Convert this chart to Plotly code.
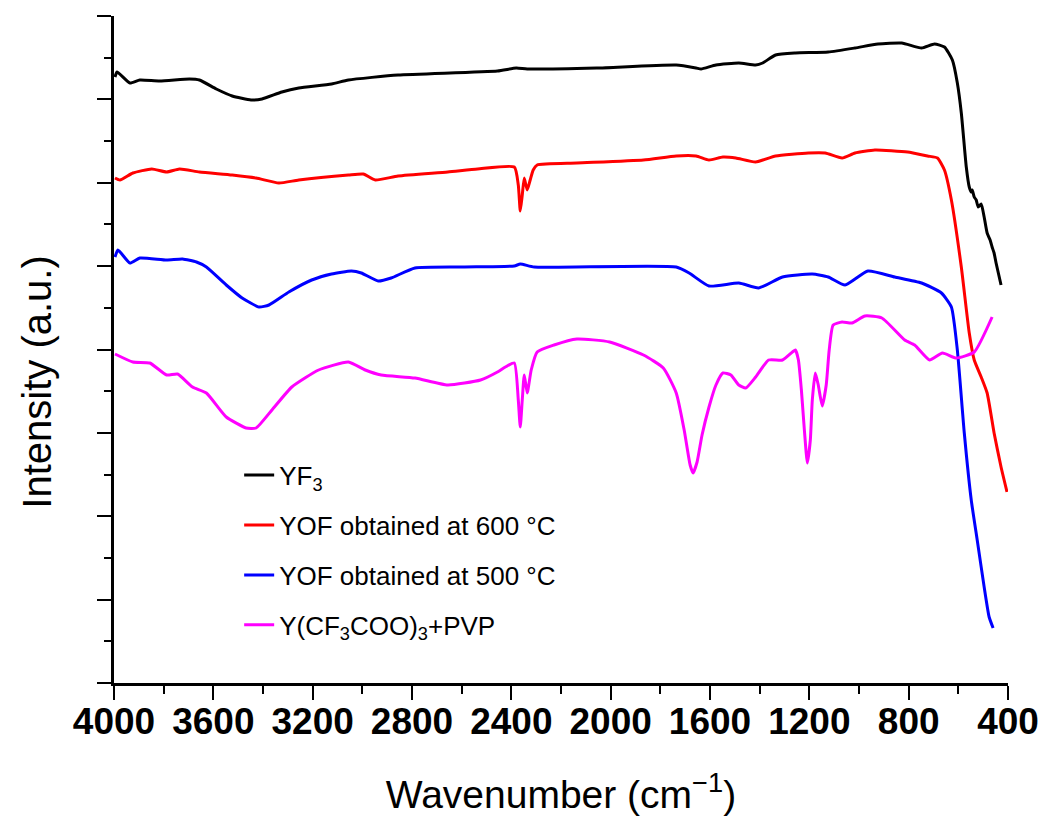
import plotly.graph_objects as go

# Wavenumber (cm^-1) and intensity (a.u.)
yf3_w = [3996, 3988, 3936, 3896, 3816, 3696, 3656, 3588, 3524, 3448, 3404, 3324, 3256, 3124, 3056,
         2856, 2456, 2380, 2336, 2056, 1736, 1656, 1636, 1576, 1484, 1416, 1388, 1336, 1256, 1124,
         1016, 924, 828, 748, 696, 656, 624, 604, 588, 568, 556, 548, 544, 536, 528, 520, 508, 496,
         484, 472, 464, 456, 448, 428]
yf3_v = [606, 611, 600, 603, 602, 604, 603, 594, 587, 583, 584, 591, 595, 599, 603,
         608, 612, 615, 614, 615, 618, 615, 614, 618, 620, 618, 620, 628, 630, 631,
         635, 639, 640, 635, 639, 636, 623, 600, 570, 516, 496, 491, 493, 486, 483, 476, 479, 466,
         450, 443, 436, 430, 420, 398]

yof600_w = [3996, 3976, 3924, 3848, 3788, 3736, 3656, 3524, 3428, 3336, 3256, 3056, 2996, 2948,
            2856, 2656, 2536, 2388, 2372, 2364, 2356, 2348, 2336, 2324, 2312, 2296, 2136, 1868,
            1736, 1656, 1604, 1548, 1496, 1416, 1336, 1204, 1136, 1068, 1016, 936, 804, 724, 684,
            656, 628, 588, 556, 536, 508, 484, 456, 428, 404]
yof600_v = [505, 503, 510, 514, 511, 514, 511, 508, 505, 500, 503, 508, 509, 503,
            507, 511, 514, 516, 498, 472, 488, 505, 493, 503, 513, 518, 520, 523,
            527, 527, 523, 526, 525, 521, 527, 530, 530, 525, 530, 533, 531, 527, 525,
            513, 483, 416, 350, 323, 306, 290, 250, 216, 191]

yof500_w = [3996, 3984, 3936, 3896, 3788, 3724, 3668, 3628, 3548, 3484, 3416, 3376, 3296, 3204,
            3124, 3044, 3004, 2936, 2884, 2788, 2588, 2388, 2364, 2308, 1736, 1684, 1604, 1484,
            1404, 1308, 1188, 1124, 1056, 964, 856, 748, 668, 628, 604, 576, 548, 524, 496, 476, 460]
yof500_v = [426, 433, 420, 425, 423, 424, 421, 416, 398, 385, 376, 378, 391, 403,
            409, 412, 410, 402, 405, 415, 416, 417, 419, 416, 416, 410, 397, 400,
            395, 406, 409, 406, 398, 412, 406, 400, 390, 376, 333, 250, 183, 143, 96, 66, 55]

prec_w = [3996, 3924, 3856, 3788, 3744, 3684, 3628, 3548, 3468, 3428, 3364, 3284, 3176, 3056,
          2988, 2924, 2788, 2656, 2524, 2456, 2424, 2388, 2372, 2364, 2356, 2348, 2336, 2320,
          2296, 2228, 2136, 2004, 1868, 1788, 1736, 1704, 1680, 1668, 1652, 1632, 1604, 1576,
          1548, 1516, 1484, 1456, 1416, 1364, 1308, 1268, 1256, 1244, 1232, 1220, 1208, 1196,
          1188, 1176, 1164, 1148, 1132, 1120, 1104, 1068, 1028, 976, 908, 816, 776, 716, 664,
          608, 536, 464]
prec_v = [329, 321, 320, 308, 309, 296, 290, 266, 255, 255, 273, 296, 313, 321,
          313, 308, 305, 298, 303, 311, 316, 320, 283, 256, 283, 308, 290, 313,
          331, 338, 344, 341, 328, 315, 290, 253, 218, 210, 221, 248, 276, 298,
          310, 308, 298, 295, 306, 323, 323, 331, 333, 323, 293, 253, 220, 243,
          283, 310, 298, 277, 298, 333, 358, 361, 360, 367, 365, 343, 338, 323, 330,
          325, 331, 366]

names = ["YF<sub>3</sub>", "YOF obtained at 600 \u00b0C", "YOF obtained at 500 \u00b0C",
         "Y(CF<sub>3</sub>COO)<sub>3</sub>+PVP"]
colors = ["#000000", "#FF0000", "#0000FF", "#FF00FF"]
series = [(yf3_w, yf3_v), (yof600_w, yof600_v), (yof500_w, yof500_v), (prec_w, prec_v)]

x_ticks = [4000, 3600, 3200, 2800, 2400, 2000, 1600, 1200, 800, 400]

FONT = "Arial, 'Liberation Sans', sans-serif"
fig = go.Figure()
legend_ids = ["legend", "legend2", "legend3", "legend4"]
legend_y = [0.3118, 0.2369, 0.1619, 0.0870]
for i, ((w, v), n, c) in enumerate(zip(series, names, colors)):
    fig.add_trace(go.Scatter(x=w, y=v, mode="lines", name=n,
                             line=dict(color=c, width=3, shape="spline", smoothing=0.5),
                             legend=legend_ids[i], showlegend=True))

layout_legends = {}
for lid, ly in zip(legend_ids, legend_y):
    layout_legends[lid] = dict(x=0.14, y=ly, xanchor="left", yanchor="middle",
                               bgcolor="rgba(0,0,0,0)", borderwidth=0,
                               font=dict(family=FONT, size=26, color="black"))

fig.update_layout(
    width=1051, height=821,
    margin=dict(l=114, r=37, t=16, b=138),
    paper_bgcolor="white", plot_bgcolor="white",
    font=dict(family=FONT, color="black"),
    **layout_legends,
    xaxis=dict(range=[4000, 400], tickmode="array", tickvals=x_ticks,
               ticktext=[f"<b>{t}</b>" for t in x_ticks],
               ticks="outside", ticklen=14, tickwidth=2, tickcolor="black",
               ticklabelstandoff=-10,
               minor=dict(dtick=200, tick0=0, ticks="outside", ticklen=8, tickwidth=2,
                          tickcolor="black", showgrid=False),
               showline=True, linecolor="black", linewidth=2.5,
               showgrid=False, zeroline=False,
               tickfont=dict(family=FONT, size=37, color="black"),
               title=dict(text="Wavenumber (cm<sup>\u22121</sup>)",
                          font=dict(family=FONT, size=39, color="black"), standoff=40)),
    yaxis=dict(range=[0, 667], tick0=0, dtick=83.375,
               ticks="outside", ticklen=14, tickwidth=2, tickcolor="black",
               minor=dict(dtick=83.375 / 2, tick0=0, ticks="outside", ticklen=7, tickwidth=2,
                          tickcolor="black", showgrid=False),
               showticklabels=False,
               showline=True, linecolor="black", linewidth=2.5,
               showgrid=False, zeroline=False),
    annotations=[dict(text="Intensity (a.u.)", textangle=-90, showarrow=False,
                      xref="paper", yref="paper", x=-0.0856, y=0.451,
                      xanchor="center", yanchor="middle",
                      font=dict(family=FONT, size=40, color="black"))],
)

fig.write_html("out.html")
